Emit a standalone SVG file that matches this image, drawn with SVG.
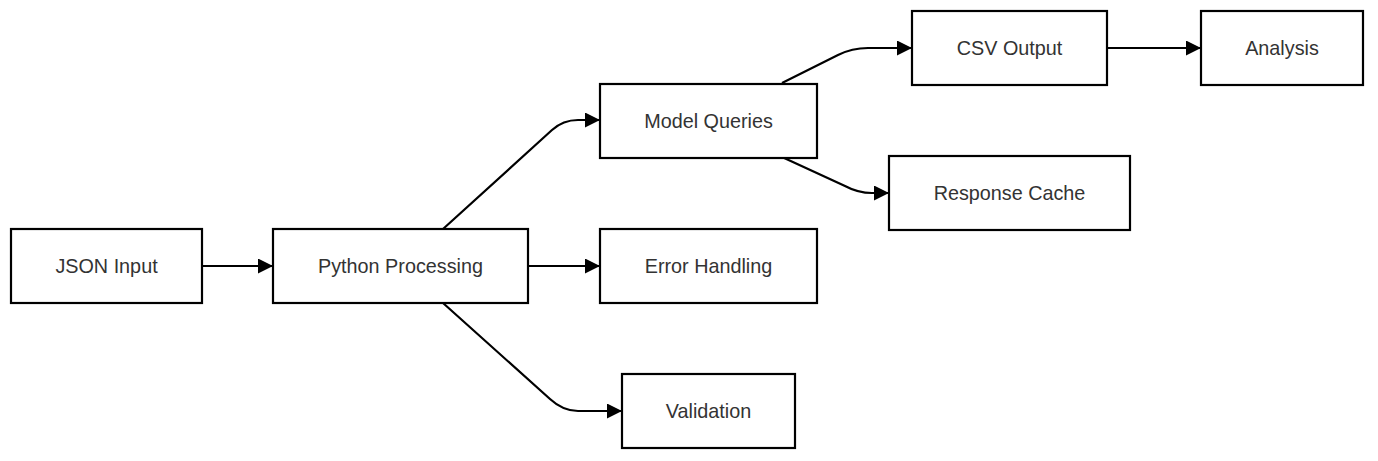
<svg xmlns="http://www.w3.org/2000/svg" width="1378" height="461" viewBox="0 0 1378 461">
<style>
.node rect{fill:#fff;stroke:#000;stroke-width:2.2}
.node text{font-family:"Liberation Sans",Arial,sans-serif;font-size:19.8px;fill:#333;text-anchor:middle;dominant-baseline:central}
.edge{fill:none;stroke:#000;stroke-width:2.2;marker-end:url(#arr)}
</style>
<defs>
<marker id="arr" viewBox="0 0 10 10" refX="10" refY="5" markerWidth="15" markerHeight="15" markerUnits="userSpaceOnUse" orient="auto">
<path d="M0,0 L10,5 L0,10 z" fill="#000"/>
</marker>
</defs>
<rect width="1378" height="461" fill="#fff"/>
<g id="connectors">
<path class="edge" d="M202,266 L273,266"/>
<path class="edge" d="M528,266 L600,266"/>
<path class="edge" d="M443,229 L552,130 Q563,120 578,120 L600,120"/>
<path class="edge" d="M443,303 L550,399 Q563,411 578,411 L622,411"/>
<path class="edge" d="M782,83 L838,55 Q852,48 868,48 L912,48"/>
<path class="edge" d="M782,157 L845,186 Q858,193 872,193 L889,193"/>
<path class="edge" d="M1107,48 L1201,48"/>
</g>
<g id="json-input" class="node"><rect x="11" y="229" width="191" height="74"/><text x="106.5" y="266">JSON Input</text></g>
<g id="python-processing" class="node"><rect x="273" y="229" width="255" height="74"/><text x="400.5" y="266">Python Processing</text></g>
<g id="model-queries" class="node"><rect x="600" y="84" width="217" height="74"/><text x="708.5" y="121">Model Queries</text></g>
<g id="error-handling" class="node"><rect x="600" y="229" width="217" height="74"/><text x="708.5" y="266">Error Handling</text></g>
<g id="validation" class="node"><rect x="622" y="374" width="173" height="74"/><text x="708.5" y="411">Validation</text></g>
<g id="csv-output" class="node"><rect x="912" y="11" width="195" height="74"/><text x="1009.5" y="48">CSV Output</text></g>
<g id="analysis" class="node"><rect x="1201" y="11" width="162" height="74"/><text x="1282" y="48">Analysis</text></g>
<g id="response-cache" class="node"><rect x="889" y="156" width="241" height="74"/><text x="1009.5" y="193">Response Cache</text></g>
</svg>
